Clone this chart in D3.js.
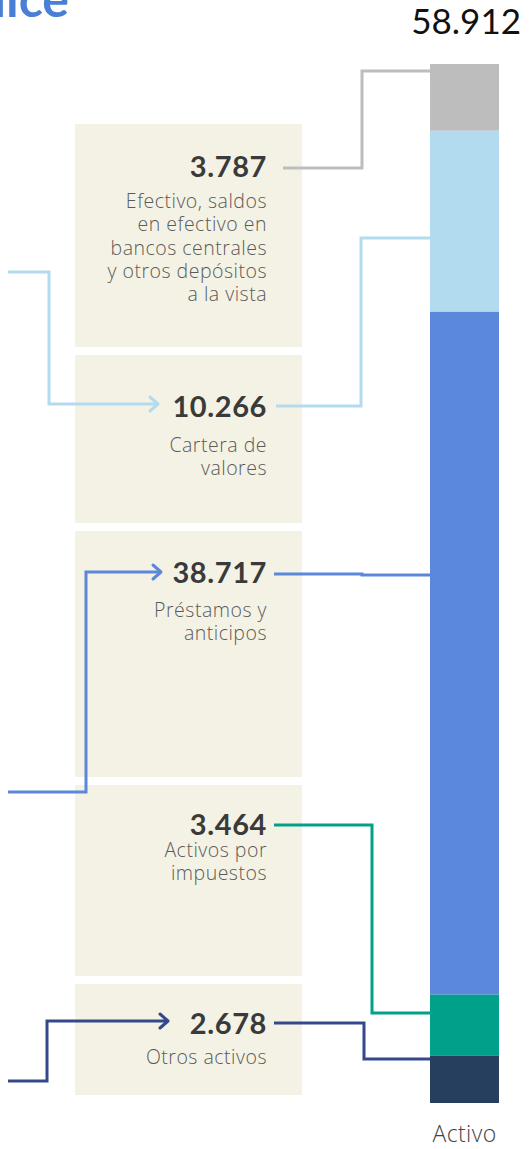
<!DOCTYPE html>
<html>
<head>
<meta charset="utf-8">
<script src="https://cdn.jsdelivr.net/npm/d3@7"></script>
<style>
  html, body { margin: 0; padding: 0; background: #ffffff; }
  svg { display: block; }
</style>
</head>
<body>
<svg id="chart" width="530" height="1149"></svg>
<script>
// Asset breakdown (millions), stacked top to bottom in the "Activo" column
const categories = [
  "Efectivo, saldos en efectivo en bancos centrales y otros depósitos a la vista",
  "Cartera de valores",
  "Préstamos y anticipos",
  "Activos por impuestos",
  "Otros activos"
];
const values = [3.787, 10.266, 38.717, 3.464, 2.678];
const valueLabels = ["3.787", "10.266", "38.717", "3.464", "2.678"];
const descLines = [
  ["Efectivo, saldos", "en efectivo en", "bancos centrales", "y otros depósitos", "a la vista"],
  ["Cartera de", "valores"],
  ["Préstamos y", "anticipos"],
  ["Activos por", "impuestos"],
  ["Otros activos"]
];
const totalLabel = "58.912";
const columnLabel = "Activo";
const colors = ["#bdbdbd", "#b3dbef", "#5b88db", "#00a08a", "#263f5e"];
const lineColors = ["#bdbdbd", "#b3dbef", "#5b88db", "#00a08a", "#34488c"];

const svg = d3.select("#chart");
const total = d3.sum(values);

// Vertical scale for the stacked column
const y = d3.scaleLinear().domain([0, total]).range([64, 1103]);
const barX = 430, barW = 69;

// Layout of the beige label panels
const panels = [
  { top: 124, bottom: 347, valueY: 177, descY: 208, descStep: 23.3, lineY: 168 },
  { top: 355, bottom: 523, valueY: 417, descY: 452, descStep: 22.5, lineY: 406 },
  { top: 531, bottom: 777, valueY: 583, descY: 617, descStep: 23, lineY: 574 },
  { top: 785, bottom: 976, valueY: 835, descY: 857, descStep: 22.5, lineY: 825 },
  { top: 984, bottom: 1095, valueY: 1034, descY: 1064, descStep: 22, lineY: 1023 }
];
const panelX = 75, panelW = 227, textRight = 267;

// Title fragment at the top-left
svg.append("text")
  .attr("x", 69).attr("y", 17)
  .attr("text-anchor", "end")
  .attr("font-family", "Lato, 'Open Sans', sans-serif")
  .attr("font-weight", 700)
  .attr("font-size", 50)
  .attr("fill", "#4a7fd6")
  .text("Índice");

// Panels
svg.append("g").selectAll("rect")
  .data(panels)
  .join("rect")
  .attr("x", panelX).attr("y", d => d.top)
  .attr("width", panelW).attr("height", d => d.bottom - d.top)
  .attr("fill", "#f4f2e4");

// Stacked segments
let acc = 0;
const stack = values.map((v, i) => {
  const s = { i, y0: acc, y1: acc + v };
  acc += v;
  return s;
});

svg.append("g").selectAll("rect")
  .data(stack)
  .join("rect")
  .attr("x", barX)
  .attr("y", d => y(d.y0))
  .attr("width", barW)
  .attr("height", d => y(d.y1) - y(d.y0))
  .attr("fill", d => colors[d.i]);

// Connectors from each value label to its segment
const connectors = [
  { from: 283, elbowX: 362, barY: 71 },
  { from: 276, elbowX: 361, barY: 238 },
  { from: 274, elbowX: 362, barY: 575 },
  { from: 274, elbowX: 372, barY: 1013 },
  { from: 274, elbowX: 364, barY: 1059 }
];
const line = d3.line();
svg.append("g").selectAll("path")
  .data(connectors)
  .join("path")
  .attr("d", (c, i) => line([
    [c.from, panels[i].lineY],
    [c.elbowX, panels[i].lineY],
    [c.elbowX, c.barY],
    [barX, c.barY]
  ]))
  .attr("fill", "none")
  .attr("stroke", (c, i) => lineColors[i])
  .attr("stroke-width", 3);

// Incoming arrows from the left edge
const arrows = [
  { idx: 1, startY: 272, elbowX: 49, tip: 158 },
  { idx: 2, startY: 792, elbowX: 86, tip: 161 },
  { idx: 4, startY: 1081, elbowX: 47, tip: 168 }
];
const ag = svg.append("g");
ag.selectAll("path.shaft")
  .data(arrows)
  .join("path")
  .attr("class", "shaft")
  .attr("d", a => line([
    [8, a.startY],
    [a.elbowX, a.startY],
    [a.elbowX, panels[a.idx].lineY - 2],
    [a.tip - 1, panels[a.idx].lineY - 2]
  ]))
  .attr("fill", "none")
  .attr("stroke", a => lineColors[a.idx])
  .attr("stroke-width", 3);
ag.selectAll("path.head")
  .data(arrows)
  .join("path")
  .attr("class", "head")
  .attr("d", a => {
    const yy = panels[a.idx].lineY - 2;
    return line([[a.tip - 8, yy - 7], [a.tip, yy], [a.tip - 8, yy + 7]]);
  })
  .attr("fill", "none")
  .attr("stroke", a => lineColors[a.idx])
  .attr("stroke-width", 3)
  .attr("stroke-linecap", "round")
  .attr("stroke-linejoin", "round");

// Value labels
svg.append("g").selectAll("text")
  .data(panels)
  .join("text")
  .attr("x", textRight)
  .attr("y", d => d.valueY)
  .attr("text-anchor", "end")
  .attr("font-family", "Lato, 'Open Sans', sans-serif")
  .attr("font-weight", 700)
  .attr("font-size", 29)
  .attr("letter-spacing", 0.6)
  .attr("fill", "#3a3a3a")
  .text((d, i) => valueLabels[i]);

// Descriptions
const dg = svg.append("g");
panels.forEach((p, i) => {
  dg.append("text")
    .attr("text-anchor", "end")
    .attr("font-family", "'Open Sans', Lato, sans-serif")
    .attr("font-weight", 300)
    .attr("font-size", 19.5)
    .attr("letter-spacing", 0.5)
    .attr("fill", "#5a5a5a")
    .selectAll("tspan")
    .data(descLines[i])
    .join("tspan")
    .attr("x", textRight)
    .attr("y", (t, j) => p.descY + j * p.descStep)
    .text(t => t);
});

// Column total and name
svg.append("text")
  .attr("x", 521).attr("y", 34)
  .attr("text-anchor", "end")
  .attr("font-family", "Lato, 'Open Sans', sans-serif")
  .attr("font-size", 35)
  .attr("fill", "#111111")
  .text(totalLabel);

svg.append("text")
  .attr("x", barX + barW / 2).attr("y", 1142)
  .attr("text-anchor", "middle")
  .attr("font-family", "'Open Sans', Lato, sans-serif")
  .attr("font-weight", 300)
  .attr("font-size", 23)
  .attr("letter-spacing", 0.4)
  .attr("fill", "#444444")
  .text(columnLabel);
</script>
</body>
</html>
